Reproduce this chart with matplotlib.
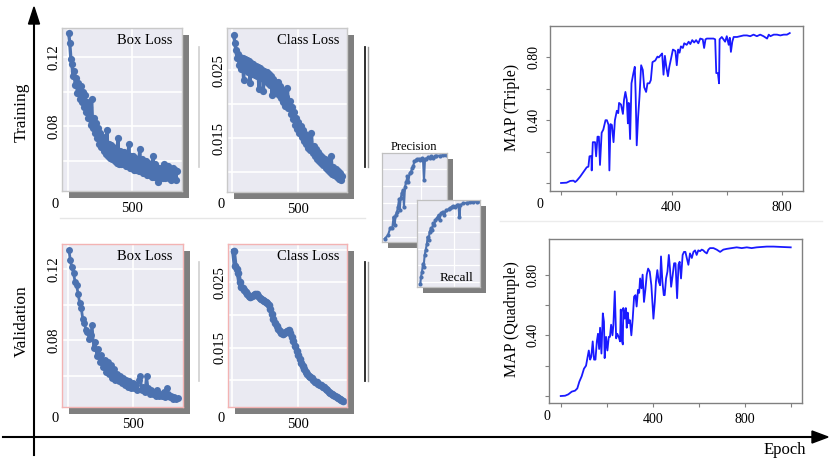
import numpy as np
import matplotlib
matplotlib.use('Agg')
import matplotlib.pyplot as plt
from matplotlib.patches import Rectangle, Polygon
from matplotlib.lines import Line2D

plt.rcParams['font.family'] = ['Liberation Serif', 'DejaVu Serif']

# ---------------- data ----------------
train_box_loss = [0.134, 0.128, 0.119, 0.116, 0.109, 0.112, 0.104, 0.108, 0.099, 0.105,
                  0.096, 0.103, 0.094, 0.100, 0.091, 0.098, 0.088, 0.094, 0.085, 0.091,
                  0.081, 0.096, 0.079, 0.085, 0.076, 0.082, 0.073, 0.079, 0.070, 0.076,
                  0.068, 0.074, 0.066, 0.072, 0.064, 0.078, 0.063, 0.070, 0.062, 0.069,
                  0.061, 0.068, 0.060, 0.067, 0.059, 0.073, 0.058, 0.066, 0.058, 0.065,
                  0.058, 0.065, 0.057, 0.064, 0.057, 0.070, 0.056, 0.063, 0.056, 0.063,
                  0.055, 0.062, 0.055, 0.061, 0.054, 0.067, 0.054, 0.061, 0.053, 0.060,
                  0.053, 0.060, 0.052, 0.059, 0.052, 0.058, 0.051, 0.063, 0.051, 0.058,
                  0.051, 0.056, 0.048, 0.056, 0.050, 0.056, 0.050, 0.058, 0.050, 0.056,
                  0.051, 0.057, 0.050, 0.055, 0.049, 0.056, 0.050, 0.055, 0.049, 0.054]
train_box_epochs = (5, 850)

train_cls_loss = [0.0302, 0.0290, 0.0280, 0.0268, 0.0274, 0.0258, 0.0270, 0.0252, 0.0268, 0.0236,
                  0.0266, 0.0250, 0.0265, 0.0248, 0.0263, 0.0231, 0.0261, 0.0245, 0.0259, 0.0243,
                  0.0256, 0.0241, 0.0255, 0.0223, 0.0253, 0.0238, 0.0251, 0.0220, 0.0249, 0.0234,
                  0.0247, 0.0231, 0.0244, 0.0228, 0.0242, 0.0214, 0.0237, 0.0221, 0.0233, 0.0216,
                  0.0232, 0.0214, 0.0227, 0.0209, 0.0221, 0.0203, 0.0217, 0.0198, 0.0210, 0.0224,
                  0.0195, 0.0204, 0.0186, 0.0196, 0.0178, 0.0188, 0.0170, 0.0180, 0.0164, 0.0174,
                  0.0158, 0.0168, 0.0152, 0.0162, 0.0146, 0.0156, 0.0141, 0.0151, 0.0136, 0.0146,
                  0.0132, 0.0158, 0.0128, 0.0138, 0.0124, 0.0134, 0.0120, 0.0130, 0.0116, 0.0126,
                  0.0113, 0.0123, 0.0110, 0.0120, 0.0107, 0.0117, 0.0104, 0.0114, 0.0101, 0.0124,
                  0.0098, 0.0108, 0.0096, 0.0105, 0.0093, 0.0102, 0.0090, 0.0099, 0.0088, 0.0095]
train_cls_epochs = (14, 833)

val_box_loss = [0.131, 0.125, 0.121, 0.118, 0.113, 0.111, 0.106, 0.101, 0.098, 0.092,
                0.090, 0.086, 0.085, 0.081, 0.083, 0.0885, 0.076, 0.079, 0.071, 0.075,
                0.068, 0.072, 0.065, 0.069, 0.062, 0.068, 0.061, 0.066, 0.059, 0.064,
                0.058, 0.061, 0.057, 0.060, 0.056, 0.059, 0.055, 0.058, 0.054, 0.057,
                0.053, 0.056, 0.053, 0.055, 0.052, 0.058, 0.060, 0.052, 0.054, 0.051,
                0.060, 0.053, 0.050, 0.052, 0.050, 0.051, 0.049, 0.052, 0.049, 0.050,
                0.049, 0.051, 0.048, 0.053, 0.050, 0.048, 0.049, 0.047, 0.048, 0.047, 0.0475]
val_box_epochs = (6, 848)

val_cls_loss = [0.0298, 0.0276, 0.0270, 0.0264, 0.0250, 0.0243, 0.0241, 0.0238, 0.0236, 0.0233,
                0.0230, 0.0227, 0.0229, 0.0231, 0.0232, 0.0232, 0.0230, 0.0226, 0.0224, 0.0223,
                0.0222, 0.0220, 0.0219, 0.0215, 0.0210, 0.0202, 0.0194, 0.0188, 0.0183, 0.0179,
                0.0176, 0.0173, 0.0171, 0.0172, 0.0174, 0.0175, 0.0177, 0.0173, 0.0167, 0.0160,
                0.0153, 0.0145, 0.0138, 0.0133, 0.0127, 0.0122, 0.0117, 0.0112, 0.0110, 0.0107,
                0.0105, 0.0103, 0.0100, 0.0098, 0.0097, 0.0095, 0.0093, 0.0092, 0.0090, 0.0089,
                0.0087, 0.0085, 0.0082, 0.0080, 0.0079, 0.0077, 0.0076, 0.0074, 0.0073, 0.0071,
                0.0070, 0.0068]
val_cls_epochs = (9, 837)

precision_x = [.041, .092, .128, .159, .179, .195, .210, .231, .246, .262, .272, .287, .303, .323,
               .338, .354, .374, .390, .405, .426, .446, .467, .482, .497, .518, .538, .569, .590,
               .610, .631, .646, .662, .682, .708, .733, .759, .785, .810, .836, .887, .938, .979]
precision_y = [.038, .075, .162, .162, .283, .189, .302, .340, .396, .479, .358, .491, .547, .585,
               .396, .623, .679, .736, .679, .774, .792, .830, .857, .906, .917, .932, .932, .925,
               .943, .925, .698, .932, .932, .951, .943, .962, .943, .962, .970, .970, .974, .981]

recall_x = [.053, .063, .079, .095, .105, .121, .137, .158, .168, .184, .200, .221, .237, .253,
            .274, .289, .316, .342, .358, .379, .411, .432, .463, .500, .526, .553, .579, .605,
            .632, .658, .674, .689, .737, .789, .842, .895, .947, .989]
recall_y = [.038, .115, .173, .269, .231, .365, .423, .500, .577, .538, .635, .673, .654, .731,
            .712, .769, .788, .827, .769, .846, .865, .827, .885, .892, .904, .923, .931, .923,
            .942, .942, .800, .942, .962, .969, .973, .977, .981, .985]

triple_epoch = [0, 20, 33, 45, 51, 57, 69, 81, 93, 99, 103, 110, 111, 115, 123, 127, 132, 137, 141,
                147, 153, 161, 166, 172, 175, 179, 184, 190, 195, 202, 207, 210, 217, 224, 228, 233,
                238, 242, 245, 250, 255, 262, 267, 270, 274, 279, 284, 290, 296, 301, 308, 313, 320,
                325, 331, 341, 349, 354, 361, 366, 371, 376, 381, 387, 392, 398, 405, 410, 414, 419,
                424, 429, 434, 441, 446, 455, 462, 468, 475, 482, 489, 497, 504, 513, 518, 523, 528,
                538, 552, 558, 562, 568, 572, 574, 582, 588, 594, 600, 607, 611, 615, 620, 625, 637,
                649, 661, 673, 685, 697, 709, 721, 733, 746, 752, 758, 770, 782, 794, 806, 818, 828]
triple_map = [0.0, 0.002, 0.013, 0.015, 0.006, 0.015, 0.040, 0.070, 0.100, 0.104, 0.17, 0.172, 0.08,
              0.26, 0.26, 0.17, 0.295, 0.295, 0.115, 0.32, 0.34, 0.40, 0.40, 0.37, 0.08, 0.375, 0.37,
              0.26, 0.40, 0.46, 0.445, 0.51, 0.50, 0.44, 0.53, 0.58, 0.53, 0.38, 0.51, 0.28, 0.635,
              0.70, 0.74, 0.57, 0.24, 0.42, 0.55, 0.75, 0.72, 0.61, 0.58, 0.635, 0.635, 0.655, 0.77,
              0.78, 0.805, 0.80, 0.815, 0.825, 0.69, 0.81, 0.74, 0.68, 0.74, 0.79, 0.85, 0.845, 0.84,
              0.75, 0.85, 0.83, 0.87, 0.86, 0.89, 0.88, 0.90, 0.885, 0.91, 0.895, 0.91, 0.89, 0.92,
              0.915, 0.86, 0.915, 0.92, 0.92, 0.92, 0.915, 0.70, 0.70, 0.635, 0.915, 0.93, 0.915,
              0.90, 0.935, 0.88, 0.925, 0.835, 0.90, 0.93, 0.93, 0.935, 0.94, 0.94, 0.935, 0.945,
              0.935, 0.945, 0.935, 0.92, 0.945, 0.935, 0.945, 0.945, 0.94, 0.945, 0.945, 0.955]

quad_epoch = [0, 19, 33, 48, 62, 72, 81, 91, 101, 110, 116, 122, 128, 133, 139, 145, 151, 157, 162,
              167, 171, 177, 183, 188, 191, 197, 203, 209, 214, 219, 225, 229, 235, 241, 246, 252,
              258, 261, 265, 270, 272, 278, 283, 287, 291, 296, 301, 307, 313, 319, 325, 330, 336,
              341, 345, 351, 356, 362, 368, 374, 380, 387, 394, 403, 409, 414, 420, 426, 432, 436,
              442, 448, 452, 458, 464, 470, 475, 480, 487, 493, 499, 506, 512, 517, 523, 530, 536,
              542, 548, 555, 562, 570, 577, 584, 591, 598, 606, 613, 620, 626, 635, 642, 649, 664,
              678, 693, 707, 722, 743, 765, 787, 809, 830, 852, 896, 925, 968, 1000]
quad_map = [0.0, 0.002, 0.011, 0.029, 0.035, 0.05, 0.095, 0.13, 0.18, 0.20, 0.25, 0.30, 0.24, 0.26,
            0.36, 0.24, 0.24, 0.36, 0.41, 0.31, 0.45, 0.28, 0.545, 0.49, 0.25, 0.39, 0.30, 0.39,
            0.39, 0.47, 0.40, 0.47, 0.69, 0.38, 0.41, 0.39, 0.36, 0.57, 0.37, 0.34, 0.58, 0.51,
            0.58, 0.45, 0.55, 0.48, 0.50, 0.40, 0.51, 0.655, 0.665, 0.59, 0.70, 0.68, 0.775, 0.71,
            0.80, 0.62, 0.70, 0.80, 0.84, 0.82, 0.73, 0.51, 0.62, 0.755, 0.83, 0.755, 0.73, 0.92,
            0.755, 0.665, 0.665, 0.775, 0.82, 0.93, 0.84, 0.72, 0.80, 0.875, 0.875, 0.645, 0.865,
            0.885, 0.775, 0.93, 0.95, 0.95, 0.91, 0.865, 0.94, 0.91, 0.95, 0.96, 0.93, 0.96, 0.955,
            0.965, 0.96, 0.95, 0.94, 0.965, 0.975, 0.975, 0.965, 0.95, 0.965, 0.97, 0.975, 0.98,
            0.975, 0.98, 0.975, 0.98, 0.985, 0.985, 0.982, 0.98]

# ---------------- figure ----------------
W, H = 830, 467
fig = plt.figure(figsize=(W / 100, H / 100), dpi=100)


def fx(x):
    return x / W


def fy(y):
    return 1 - y / H


def add_ax(x0, y0, x1, y1, z):
    return fig.add_axes([x0 / W, 1 - y1 / H, (x1 - x0) / W, (y1 - y0) / H], zorder=z)


def shadow(x0, y0, x1, y1, z, d=7):
    fig.add_artist(Rectangle((fx(x0 + d), fy(y1 + d)), (x1 - x0) / W, (y1 - y0) / H,
                             transform=fig.transFigure, facecolor='#7f7f7f',
                             edgecolor='none', zorder=z))


def ftext(x, y, s, **kw):
    fig.text(fx(x), fy(y), s, **kw)


BLUE = '#4c72b0'


def loss_panel(rect, vals, ep_range, xlim, ylim, grid_y, labels, title, edge, title_pos,
               ms, lw):
    x0, y0, x1, y1 = rect
    shadow(x0, y0, x1, y1, z=1)
    ax = add_ax(x0, y0, x1, y1, z=2)
    ax.set_facecolor('#eaeaf2')
    ep = np.linspace(ep_range[0], ep_range[1], len(vals))
    ax.plot(ep, vals, '-o', color=BLUE, ms=ms, lw=lw, mew=0)
    ax.set_xlim(*xlim)
    ax.set_ylim(*ylim)
    ax.set_yticks(grid_y)
    ax.set_yticklabels([labels.get(v, '') for v in grid_y], rotation=90, va='center',
                       fontsize=10.5)
    ax.set_xticks([0, 500])
    ax.set_xticklabels(['', '500'], fontsize=10.5)
    ax.tick_params(length=0, pad=1)
    ax.tick_params(axis='x', pad=8)
    ax.grid(True, color='white', lw=1.2)
    ax.set_axisbelow(True)
    for s in ax.spines.values():
        s.set_color(edge)
        s.set_linewidth(1.0)
    ftext(title_pos[0], title_pos[1], title, ha='right', va='center', fontsize=10.5, zorder=5)
    return ax


TR_EDGE = '#c9c9c9'
VA_EDGE = '#f3b3b3'

# training row
loss_panel((62, 28, 182, 191), train_box_loss, train_box_epochs, (-47, 890), (0.0427, 0.1367),
           [0.06, 0.08, 0.10, 0.12], {0.08: '0.08', 0.12: '0.12'}, 'Box Loss', TR_EDGE, (172, 41),
           ms=5.2, lw=2.4)
loss_panel((227, 28, 347, 192), train_cls_loss, train_cls_epochs, (-37, 870), (0.0071, 0.0312),
           [0.010, 0.015, 0.020, 0.025], {0.015: '0.015', 0.025: '0.025'}, 'Class Loss', TR_EDGE,
           (339, 41), ms=5.2, lw=2.4)
# validation row
loss_panel((62, 244, 183, 407), val_box_loss, val_box_epochs, (-47, 890), (0.0426, 0.1342),
           [0.06, 0.08, 0.10, 0.12], {0.08: '0.08', 0.12: '0.12'}, 'Box Loss', VA_EDGE, (172, 257),
           ms=5.0, lw=2.0)
loss_panel((228, 244, 347, 407), val_cls_loss, val_cls_epochs, (-33, 870), (0.0059, 0.0309),
           [0.010, 0.015, 0.020, 0.025, 0.030], {0.015: '0.015', 0.025: '0.025'}, 'Class Loss',
           VA_EDGE, (339, 257), ms=5.5, lw=3.5)

for (x, y) in [(55, 204), (221, 204), (55, 419), (221, 419)]:
    ftext(x, y, '0', ha='center', va='center', fontsize=10.5)


# precision / recall insets
def small_panel(rect, xs, ys, z, vgrid):
    x0, y0, x1, y1 = rect
    shadow(x0, y0, x1, y1, z=z, d=6)
    ax = add_ax(x0, y0, x1, y1, z=z + 1)
    ax.set_facecolor('#eaeaf2')
    ax.plot(xs, ys, '-o', color=BLUE, ms=3.0, lw=1.5, mew=0)
    ax.set_xlim(0, 1)
    ax.set_ylim(0, 1)
    ax.set_yticks([0.06, 0.25, 0.44, 0.63, 0.82])
    ax.set_xticks([vgrid])
    ax.set_xticklabels([])
    ax.set_yticklabels([])
    ax.tick_params(length=0)
    ax.grid(True, color='white', lw=0.9)
    ax.set_axisbelow(True)
    for s in ax.spines.values():
        s.set_color('#c0c0c0')
        s.set_linewidth(0.9)
    return ax


small_panel((382, 153, 447, 242), precision_x, precision_y, 3, 0.60)
small_panel((417, 200, 480, 287), recall_x, recall_y, 5, 0.58)
ftext(414, 147, 'Precision', ha='center', va='center', fontsize=9)
fig.text(fx(473), fy(278), 'Recall', ha='right', va='center', fontsize=9.5, zorder=10)


# MAP panels
def map_panel(rect, ep, vals, xlim, ylim, xticks, xlabels, zero_pos, ylabel, ylabel_pos):
    ax = add_ax(*rect, z=2)
    ax.plot(ep, vals, color='#1a1aff', lw=1.3)
    ax.set_xlim(*xlim)
    ax.set_ylim(*ylim)
    ax.set_xticks(xticks)
    ax.set_xticklabels(xlabels, fontsize=10)
    ax.set_yticks([0.0, 0.2, 0.4, 0.6, 0.8])
    ax.set_yticklabels(['', '', '0.40', '', '0.80'], rotation=90, va='center', fontsize=10)
    ax.tick_params(length=3, color='#808080', pad=4, width=0.8)
    for s in ax.spines.values():
        s.set_color('#808080')
        s.set_linewidth(1.0)
    ftext(zero_pos[0], zero_pos[1], '0', ha='center', va='center', fontsize=10, zorder=10)
    ftext(ylabel_pos[0], ylabel_pos[1], ylabel, ha='center', va='center', rotation=90,
          fontsize=11.5)
    return ax


map_panel((550, 26, 803, 191), triple_epoch, triple_map, (-40, 876), (-0.051, 1.0),
          [0, 200, 400, 600, 800], ['', '', '400', '', '800'], (540, 204), 'MAP (Triple)', (512, 107))
map_panel((549, 239, 802, 403), quad_epoch, quad_map, (-51, 1049), (-0.046, 1.035),
          [0, 200, 400, 600, 800, 1000], ['', '', '400', '', '800', ''], (547, 416),
          'MAP (Quadruple)', (512, 319))

# row labels / axes arrows
ftext(22, 112, 'Training', ha='center', va='center', rotation=90, fontsize=12.5)
ftext(22, 321, 'Validation', ha='center', va='center', rotation=90, fontsize=12.5)
ftext(785, 450, 'Epoch', ha='center', va='center', fontsize=12)

fig.add_artist(Line2D([fx(34), fx(34)], [fy(455), fy(20)], color='black', lw=1.5,
                      transform=fig.transFigure))
fig.add_artist(Polygon([(fx(28.5), fy(24)), (fx(39.5), fy(24)), (fx(34), fy(7))],
                       closed=True, color='black', transform=fig.transFigure))
fig.add_artist(Line2D([fx(3), fx(815)], [fy(437), fy(437)], color='black', lw=1.5,
                      transform=fig.transFigure))
fig.add_artist(Polygon([(fx(812), fy(431)), (fx(812), fy(443)), (fx(828), fy(437))],
                       closed=True, color='black', transform=fig.transFigure))

# separators
fig.add_artist(Line2D([fx(60), fx(365)], [fy(218), fy(218)], color='#e6e6e6', lw=1,
                      transform=fig.transFigure))
fig.add_artist(Line2D([fx(500), fx(822)], [fy(221), fy(221)], color='#ececec', lw=1,
                      transform=fig.transFigure))
for (y0, y1) in [(47, 167), (262, 381)]:
    fig.add_artist(Line2D([fx(199), fx(199)], [fy(y0), fy(y1)], color='#cfcfcf', lw=1.2,
                          transform=fig.transFigure))
    fig.add_artist(Line2D([fx(365), fx(365)], [fy(y0), fy(y1)], color='#202020', lw=1.3,
                          transform=fig.transFigure))
    fig.add_artist(Line2D([fx(367.5), fx(367.5)], [fy(y0), fy(y1)], color='#9a9a9a', lw=1.0,
                          transform=fig.transFigure))

fig.savefig('out.png', dpi=100)
